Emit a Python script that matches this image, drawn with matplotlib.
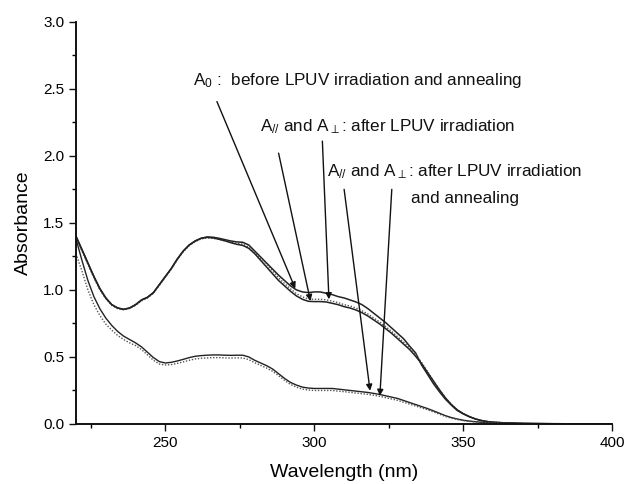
import numpy as np
import matplotlib
matplotlib.use("Agg")
import matplotlib.pyplot as plt

plt.rcParams["font.family"] = ["Liberation Sans", "DejaVu Sans"]
plt.rcParams["mathtext.fontset"] = "custom"
plt.rcParams["mathtext.rm"] = "Liberation Sans"
plt.rcParams["mathtext.it"] = "Liberation Sans:italic"
plt.rcParams["mathtext.sf"] = "Liberation Sans"

# Wavelength grid (nm)
wavelength = [220, 222, 224, 226, 228, 230, 232, 234, 236, 238, 240, 242, 244, 246, 248,
              250, 252, 254, 256, 258, 260, 262, 264, 266, 268, 270, 272, 274, 276, 278,
              280, 282, 284, 286, 288, 290, 292, 294, 296, 298, 300, 302, 304, 306, 308,
              310, 312, 314, 316, 318, 320, 322, 324, 326, 328, 330, 332, 334, 336, 338,
              340, 342, 344, 346, 348, 350, 352, 354, 356, 358, 360, 365, 370, 375, 380,
              390, 400]

# A0: before LPUV irradiation and annealing
a0 = [1.40, 1.30, 1.20, 1.10, 1.01, 0.94, 0.89, 0.865, 0.855, 0.865, 0.89, 0.925, 0.945, 0.98, 1.04,
      1.10, 1.16, 1.23, 1.29, 1.335, 1.365, 1.385, 1.395, 1.393, 1.385, 1.375, 1.365, 1.358, 1.355, 1.335,
      1.29, 1.245, 1.20, 1.155, 1.11, 1.07, 1.03, 1.00, 0.985, 0.98, 0.985, 0.985, 0.975, 0.965, 0.95,
      0.94, 0.925, 0.91, 0.89, 0.86, 0.825, 0.79, 0.755, 0.715, 0.675, 0.635, 0.58, 0.53, 0.44, 0.37,
      0.30, 0.24, 0.185, 0.14, 0.10, 0.075, 0.055, 0.038, 0.026, 0.018, 0.013, 0.007, 0.004, 0.003, 0.002,
      0.001, 0.0]

# A// after LPUV irradiation
a_par = [1.39, 1.29, 1.19, 1.09, 1.00, 0.935, 0.885, 0.86, 0.852, 0.862, 0.885, 0.918, 0.94, 0.975, 1.035,
         1.095, 1.155, 1.225, 1.285, 1.33, 1.36, 1.38, 1.388, 1.385, 1.377, 1.366, 1.355, 1.347, 1.342, 1.318,
         1.28, 1.235, 1.19, 1.14, 1.09, 1.048, 1.008, 0.972, 0.948, 0.932, 0.93, 0.93, 0.926, 0.916, 0.905,
         0.89, 0.88, 0.865, 0.845, 0.82, 0.79, 0.76, 0.725, 0.69, 0.65, 0.61, 0.57, 0.52, 0.46, 0.39,
         0.32, 0.255, 0.195, 0.145, 0.105, 0.077, 0.055, 0.038, 0.026, 0.018, 0.013, 0.007, 0.004, 0.003, 0.002,
         0.001, 0.0]

# A_perp after LPUV irradiation
a_perp = [1.40, 1.30, 1.20, 1.10, 1.01, 0.94, 0.89, 0.865, 0.855, 0.865, 0.89, 0.925, 0.945, 0.98, 1.04,
          1.10, 1.16, 1.23, 1.29, 1.335, 1.365, 1.385, 1.392, 1.388, 1.378, 1.366, 1.352, 1.34, 1.332, 1.31,
          1.27, 1.22, 1.17, 1.12, 1.07, 1.03, 0.99, 0.955, 0.93, 0.915, 0.913, 0.913, 0.91, 0.90, 0.89,
          0.875, 0.865, 0.85, 0.83, 0.805, 0.775, 0.745, 0.71, 0.675, 0.635, 0.595, 0.555, 0.505, 0.45, 0.385,
          0.32, 0.255, 0.195, 0.145, 0.105, 0.077, 0.055, 0.038, 0.026, 0.018, 0.013, 0.007, 0.004, 0.003, 0.002,
          0.001, 0.0]

# A// after LPUV irradiation and annealing
ann_par = [1.38, 1.22, 1.07, 0.95, 0.86, 0.79, 0.735, 0.69, 0.655, 0.63, 0.605, 0.575, 0.535, 0.495, 0.465,
           0.455, 0.46, 0.47, 0.482, 0.495, 0.505, 0.51, 0.513, 0.515, 0.515, 0.513, 0.512, 0.513, 0.513, 0.50,
           0.475, 0.455, 0.435, 0.41, 0.375, 0.34, 0.31, 0.29, 0.275, 0.268, 0.265, 0.265, 0.265, 0.265, 0.26,
           0.255, 0.25, 0.245, 0.24, 0.235, 0.228, 0.22, 0.21, 0.20, 0.19, 0.175, 0.16, 0.145, 0.13, 0.115,
           0.098, 0.08, 0.062, 0.048, 0.037, 0.028, 0.022, 0.017, 0.013, 0.010, 0.008, 0.005, 0.003, 0.002, 0.001,
           0.001, 0.0]

# A_perp after LPUV irradiation and annealing
ann_perp = [1.27, 1.14, 1.00, 0.89, 0.81, 0.745, 0.70, 0.66, 0.63, 0.605, 0.585, 0.555, 0.515, 0.475, 0.447,
            0.44, 0.443, 0.452, 0.463, 0.475, 0.485, 0.49, 0.493, 0.495, 0.495, 0.493, 0.492, 0.493, 0.492, 0.48,
            0.457, 0.437, 0.417, 0.393, 0.36, 0.325, 0.295, 0.275, 0.26, 0.253, 0.25, 0.25, 0.25, 0.25, 0.245,
            0.241, 0.236, 0.231, 0.226, 0.221, 0.214, 0.206, 0.196, 0.186, 0.176, 0.162, 0.148, 0.134, 0.12, 0.106,
            0.09, 0.073, 0.056, 0.043, 0.033, 0.025, 0.019, 0.015, 0.011, 0.009, 0.007, 0.004, 0.003, 0.002, 0.001,
            0.001, 0.0]

fig = plt.figure(figsize=(6.25, 4.84), dpi=100)
ax = fig.add_axes([0.1216, 0.124, 0.858, 0.831])

ax.plot(wavelength, a0, color="#222222", lw=1.1, ls="-")
ax.plot(wavelength, a_par, color="#555555", lw=1.0, ls=(0, (1, 1.2)))
ax.plot(wavelength, a_perp, color="#222222", lw=1.1, ls="-")
ax.plot(wavelength, ann_par, color="#222222", lw=1.0, ls="-")
ax.plot(wavelength, ann_perp, color="#555555", lw=1.0, ls=(0, (1, 1.2)))

ax.set_xlim(220, 400)
ax.set_ylim(0.0, 3.0)
ax.set_xticks([250, 300, 350, 400])
ax.set_xticks([225, 275, 325, 375], minor=True)
ax.set_yticks(np.arange(0, 3.01, 0.5))
ax.set_yticks(np.arange(0.25, 3.0, 0.5), minor=True)
ax.yaxis.set_major_formatter(matplotlib.ticker.FormatStrFormatter("%.1f"))
ax.tick_params(direction="out", length=5, width=1.0, labelsize=11, color="#111111")
ax.tick_params(which="minor", direction="out", length=3, width=1.0)

for side in ["top", "right"]:
    ax.spines[side].set_visible(False)
for side in ["left", "bottom"]:
    ax.spines[side].set_linewidth(1.4)
    ax.spines[side].set_color("#111111")

ax.set_xlabel("Wavelength (nm)", fontsize=14, labelpad=10)
ax.set_ylabel("Absorbance", fontsize=14, labelpad=8)

txt_kw = dict(fontsize=12.3, color="#111111", va="center", ha="left")
ax.text(259.3, 2.56, r"A$_0$ :  before LPUV irradiation and annealing", **txt_kw)
ax.text(281.9, 2.22, r"A$_{//}$ and A$_{\perp}$: after LPUV irradiation", **txt_kw)
ax.text(304.4, 1.88, r"A$_{//}$ and A$_{\perp}$: after LPUV irradiation", **txt_kw)
ax.text(332.3, 1.68, "and annealing", **txt_kw)

arrow_kw = dict(arrowstyle="-|>", color="#111111", lw=1.0, mutation_scale=9,
                shrinkA=0, shrinkB=0)
arrows = [((267.3, 2.405), (293.6, 1.01)),
          ((288.0, 2.02), (298.7, 0.917)),
          ((302.7, 2.11), (304.9, 0.93)),
          ((310.0, 1.75), (318.7, 0.248)),
          ((326.0, 1.75), (322.0, 0.21))]
for start, end in arrows:
    ax.annotate("", xy=end, xytext=start, arrowprops=arrow_kw)

fig.savefig("out.png", dpi=100)
